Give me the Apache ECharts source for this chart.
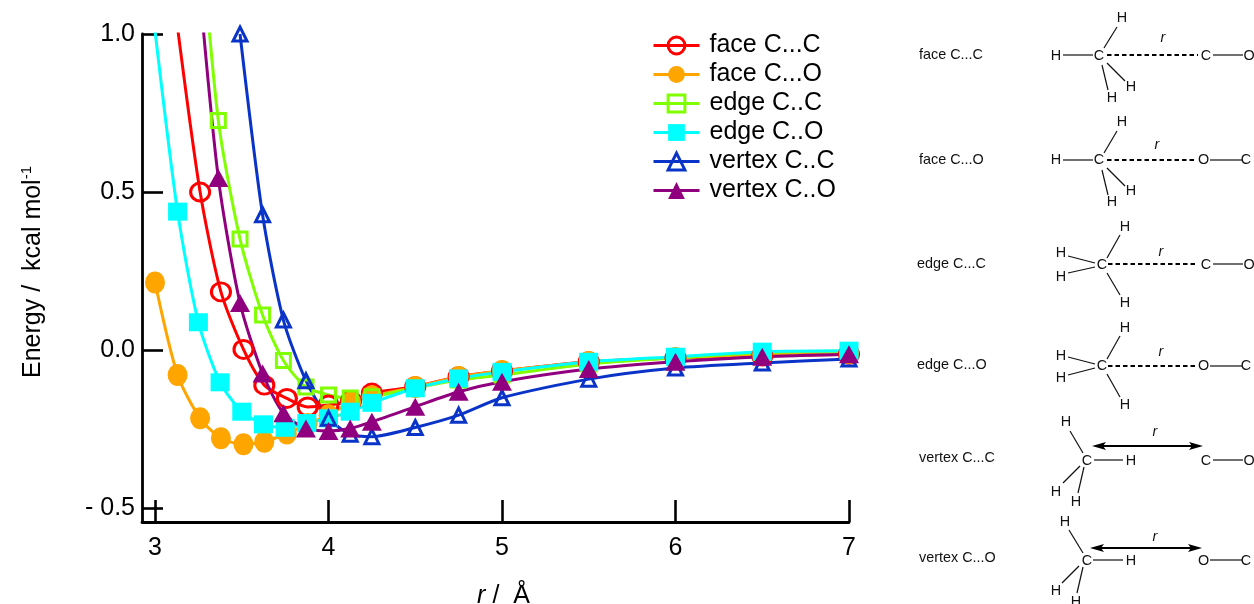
<!DOCTYPE html>
<html>
<head>
<meta charset="utf-8">
<style>html,body{margin:0;padding:0;background:#fff}#c{width:1254px;height:604px}</style>
<script src="https://cdn.jsdelivr.net/npm/echarts@6/dist/echarts.min.js"></script>
</head>
<body>
<div id="c"></div>
<script>
const seriesNames = ['face C...C','face C...O','edge C..C','edge C..O','vertex C..C','vertex C..O'];
const xTicks = [3,4,5,6,7];
const yTicks = [-0.5,0,0.5,1];
const yTickLabels = ['- 0.5','0.0','0.5','1.0'];

const rFace = [3,3.13,3.26,3.38,3.51,3.63,3.76,3.88,4,4.13,4.25,4.5,4.75,5,5.5,6,6.5,7];
const rCyan = [3,3.13,3.25,3.375,3.5,3.625,3.75,3.875,4,4.125,4.25,4.5,4.75,5,5.5,6,6.5,7];
const rEdge = [3.25,3.365,3.49,3.62,3.74,3.87,4,4.125,4.25,4.5,4.75,5,5.5,6,6.5,7];

const faceCC = [null,1.02,0.50,0.184,0.002,-0.111,-0.153,-0.18,-0.174,-0.161,-0.136,-0.116,-0.084,-0.066,-0.037,-0.025,-0.019,-0.013];
const faceCO = [0.214,-0.079,-0.216,-0.279,-0.298,-0.29,-0.264,-0.234,-0.206,-0.165,-0.146,-0.117,-0.085,-0.066,-0.038,-0.025,-0.013,-0.01];
const edgeCC = [1.42,0.726,0.351,0.111,-0.033,-0.117,-0.142,-0.152,-0.148,-0.12,-0.095,-0.079,-0.044,-0.025,-0.008,-0.003];
const edgeCO = [1.01,0.438,0.088,-0.102,-0.195,-0.235,-0.246,-0.231,-0.216,-0.195,-0.167,-0.121,-0.09,-0.069,-0.037,-0.021,-0.005,-0.002];
const vertexCC = [null,null,1.0,0.428,0.095,-0.097,-0.216,-0.266,-0.274,-0.245,-0.206,-0.151,-0.092,-0.057,-0.041,-0.028];
const vertexCO = [1.19,0.544,0.149,-0.074,-0.2,-0.248,-0.256,-0.248,-0.227,-0.179,-0.132,-0.1,-0.06,-0.037,-0.021,-0.013];

function points(xs, ys){
  const out = [];
  xs.forEach((x,i)=>{
    if (ys[i] === null) return;
    out.push(ys[i] > 1 ? {value:[x,ys[i]], symbol:'none'} : [x,ys[i]]);
  });
  return out;
}
function makeSeries(name, xs, ys, color, symbol, size, hollow){
  return {
    name, type:'line', smooth:0.25, data:points(xs,ys), symbol, symbolSize:size, showSymbol:true,
    clip:true, animation:false,
    lineStyle:{color, width:3},
    itemStyle: hollow ? {color:'transparent', borderColor:color, borderWidth:3} : {color, borderWidth:0},
    emphasis:{disabled:true}
  };
}

// Right-hand schematic panel
const ink = '#111';
const captions = [['face C...C',919,55],['face C...O',919,160],['edge C...C',917,264],['edge C...O',917,365],['vertex C...C',919,458],['vertex C...O',919,558]];
const atoms = [
 ['H',1056,56],['C',1099,56],['C',1206,56],['O',1249,56],['H',1122,18],['H',1131,87],['H',1112,98],
 ['H',1056,160.5],['C',1099,160.5],['O',1203.5,160.5],['C',1246,160.5],['H',1122,122],['H',1131,191],['H',1112,202],
 ['H',1061,253],['H',1061,277],['C',1102,265],['C',1206,265],['O',1249,265],['H',1125,227],['H',1125,303],
 ['H',1061,356],['H',1061,378],['C',1102,366],['O',1203.5,366],['C',1246,366],['H',1125,328],['H',1125,405],
 ['H',1066,422],['H',1056,492],['H',1076,502],['C',1087,461],['H',1131,461],['C',1206,461],['O',1249,461],
 ['H',1065,522],['H',1056,591],['H',1076,602],['C',1087,561],['H',1131,561],['O',1203.5,561],['C',1246,561]
];
const rMarks = [[1163,38],[1157,145],[1161,252],[1161,352],[1155,432],[1155,537]];
const bonds = [
 [1063,55,1093,55],[1213,55,1243,55],[1117,27,1104,48],[1107,63,1125,81],[1102,65,1108,90],
 [1063,160,1093,160],[1210,160,1242,160],[1117,131,1104,153],[1107,168,1125,186],[1102,170,1108,195],
 [1213,264,1243,264],[1120,235,1107,258],[1068,256,1095,263],[1068,273,1095,267],[1107,273,1120,295],
 [1210,366,1242,366],[1120,336,1107,359],[1068,357,1095,364],[1068,375,1095,368],[1107,374,1120,397],
 [1094,460,1123,460],[1213,460,1243,460],[1070,431,1083,453],[1080,466,1063,483],[1084,467,1078,493],
 [1093,560,1123,560],[1210,560,1242,560],[1069,530,1083,553],[1079,566,1062,583],[1083,567,1077,593]
];
const dashes = [[1107,1198,55],[1107,1197,160],[1108,1198,264],[1108,1197,366]];
const arrows = [[1092,1203,446],[1090,1202,548]];

const graphics = [];
captions.forEach(c=>graphics.push({type:'text',silent:true,x:c[1],y:c[2],style:{text:c[0],fontFamily:'Liberation Sans',fontSize:14.4,fill:ink,align:'left',verticalAlign:'middle'}}));
atoms.forEach(a=>graphics.push({type:'text',silent:true,x:a[1],y:a[2],style:{text:a[0],fontFamily:'Liberation Sans',fontSize:14.4,fill:ink,align:'center',verticalAlign:'middle'}}));
rMarks.forEach(a=>graphics.push({type:'text',silent:true,x:a[0],y:a[1],style:{text:'r',fontFamily:'Liberation Sans',fontStyle:'italic',fontSize:14.4,fill:ink,align:'center',verticalAlign:'middle'}}));
bonds.forEach(b=>graphics.push({type:'line',silent:true,shape:{x1:b[0],y1:b[1],x2:b[2],y2:b[3]},style:{stroke:ink,lineWidth:1.2}}));
dashes.forEach(d=>graphics.push({type:'line',silent:true,shape:{x1:d[0],y1:d[2],x2:d[1],y2:d[2]},style:{stroke:'#000',lineWidth:1.8,lineDash:[4.5,3]}}));
arrows.forEach(a=>{
  graphics.push({type:'line',silent:true,shape:{x1:a[0]+5,y1:a[2],x2:a[1]-5,y2:a[2]},style:{stroke:'#000',lineWidth:2}});
  graphics.push({type:'polygon',silent:true,shape:{points:[[a[0],a[2]],[a[0]+14,a[2]-4],[a[0]+11,a[2]],[a[0]+14,a[2]+4]]},style:{fill:'#000'}});
  graphics.push({type:'polygon',silent:true,shape:{points:[[a[1],a[2]],[a[1]-14,a[2]-4],[a[1]-11,a[2]],[a[1]-14,a[2]+4]]},style:{fill:'#000'}});
});

const axisFont = {fontFamily:'Liberation Sans',fontSize:25,color:'#000'};
const chart = echarts.init(document.getElementById('c'),null,{renderer:'canvas'});
chart.setOption({
  animation:false,
  backgroundColor:'#fff',
  grid:{left:142,right:405,top:34,bottom:82,containLabel:false,outerBoundsMode:'none'},
  legend:{
    left:652, top:32, orient:'vertical', padding:0, itemWidth:46, itemHeight:21, itemGap:2,
    selectedMode:false,
    data:seriesNames.map((name,i)=>({name, itemStyle:(i%2===0)?{borderWidth:3}:{borderWidth:0}})),
    lineStyle:{width:3},
    textStyle:{fontFamily:'Liberation Sans',fontSize:25,lineHeight:23,color:'#000',padding:[4,0,0,5]}
  },
  xAxis:{
    type:'value', min:2.925, max:7,
    splitLine:{show:false},
    axisLine:{onZero:false,lineStyle:{color:'#000',width:2.8}},
    axisTick:{show:true,inside:true,length:22,customValues:xTicks,lineStyle:{color:'#000',width:2.6}},
    axisLabel:Object.assign({show:true,margin:14,customValues:xTicks,hideOverlap:false,showMinLabel:true,showMaxLabel:true},axisFont),
    name:'{i|r} /  Å', nameLocation:'middle', nameGap:62,
    nameTextStyle:{fontFamily:'Liberation Sans',fontSize:25,color:'#000',padding:[0,0,0,16],rich:{i:{fontFamily:'Liberation Sans',fontStyle:'italic',fontSize:25,color:'#000'}}}
  },
  yAxis:{
    type:'value', min:-0.544, max:1,
    splitLine:{show:false},
    axisLine:{onZero:false,lineStyle:{color:'#000',width:2.8}},
    axisTick:{show:true,inside:true,length:21,customValues:yTicks,lineStyle:{color:'#000',width:2.6}},
    axisLabel:Object.assign({show:true,margin:7,customValues:yTicks,hideOverlap:false,showMinLabel:true,showMaxLabel:true,
      formatter:v=>{const i=yTicks.findIndex(t=>Math.abs(t-v)<1e-6);return i<0?'':yTickLabels[i];}},axisFont),
    name:'Energy /  kcal mol{s|-1}', nameLocation:'middle', nameGap:95, nameRotate:90,
    nameTextStyle:{fontFamily:'Liberation Sans',fontSize:25,color:'#000',padding:[0,0,0,12],rich:{s:{fontFamily:'Liberation Sans',fontSize:15,color:'#000',verticalAlign:'top',lineHeight:28}}}
  },
  graphic:graphics,
  series:[
    makeSeries(seriesNames[0],rFace,faceCC,'#ff0000','circle',[19,18],true),
    makeSeries(seriesNames[1],rFace,faceCO,'#ffa500','circle',[20,22],false),
    makeSeries(seriesNames[2],rEdge,edgeCC,'#7fff00','rect',[14,14],true),
    makeSeries(seriesNames[3],rCyan,edgeCO,'#00ffff','rect',[19,18],false),
    makeSeries(seriesNames[4],rEdge,vertexCC,'#0a34c8','triangle',[14,14],true),
    makeSeries(seriesNames[5],rEdge,vertexCO,'#90007e','triangle',[20,18],false)
  ]
});
</script>
</body>
</html>
